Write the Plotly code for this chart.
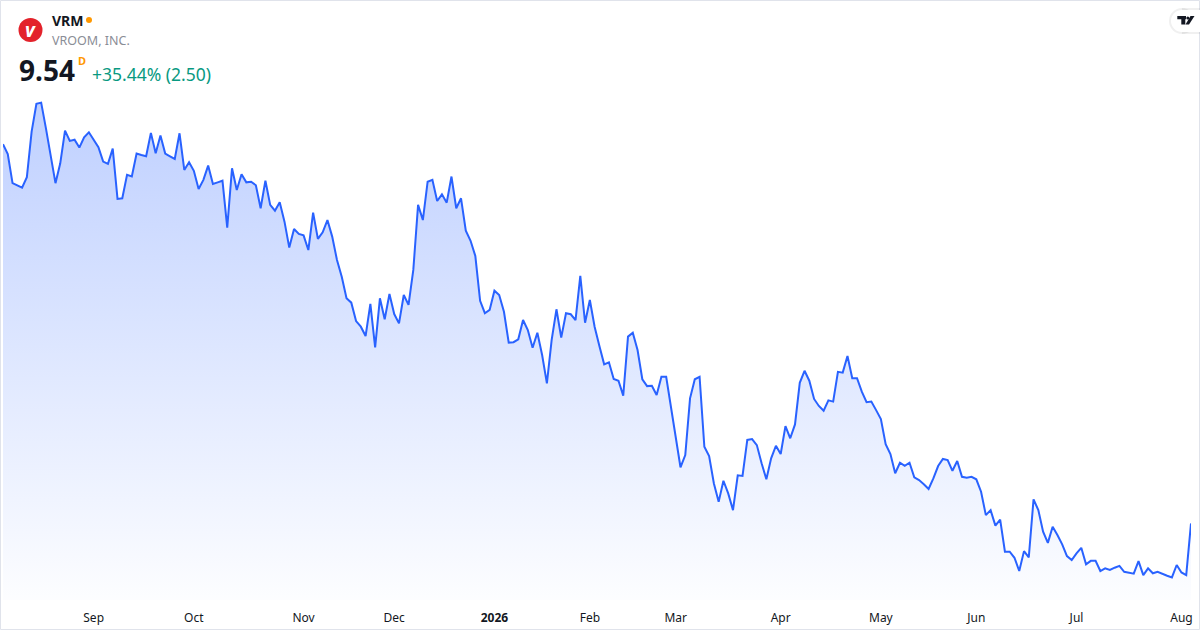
import pandas as pd
import plotly.graph_objects as go

# VRM daily closes, one per trading day
closes = [
    27.85, 27.38, 25.97, 25.84, 25.75, 26.26, 28.46, 29.80, 29.86, 28.62,
    27.29, 25.97, 26.93, 28.51, 28.01, 28.07, 27.69, 28.19, 28.43, 28.09,
    27.71, 27.01, 26.90, 27.64, 25.21, 25.24, 26.37, 26.29, 27.40, 27.33,
    27.27, 28.40, 27.42, 28.27, 27.40, 27.27, 27.14, 28.38, 26.61, 26.98,
    26.57, 25.69, 26.13, 26.82, 25.93, 26.01, 26.09, 23.82, 26.69, 25.64,
    26.40, 26.01, 26.04, 25.87, 24.76, 26.09, 24.92, 24.64, 25.05, 24.11,
    22.86, 23.76, 23.52, 23.45, 22.74, 24.55, 23.28, 23.60, 24.19, 23.39,
    22.26, 21.45, 20.41, 20.20, 19.31, 19.04, 18.59, 20.14, 18.04, 20.41,
    19.40, 20.62, 19.65, 19.20, 20.57, 20.09, 21.78, 24.92, 24.19, 26.04,
    26.13, 25.11, 25.43, 25.03, 26.29, 24.76, 25.24, 23.68, 23.19, 22.45,
    20.29, 19.69, 19.85, 20.78, 20.57, 19.76, 18.27, 18.29, 18.43, 19.36,
    18.88, 18.02, 18.75, 17.67, 16.30, 18.40, 19.88, 18.51, 19.69, 19.64,
    19.36, 21.49, 19.23, 20.33, 19.04, 18.11, 17.22, 17.32, 16.51, 16.43,
    15.71, 18.56, 18.75, 17.91, 16.50, 16.17, 16.19, 15.74, 16.62, 16.62,
    15.17, 13.72, 12.25, 12.84, 15.58, 16.50, 16.62, 13.24, 12.79, 11.47,
    10.58, 11.60, 10.99, 10.18, 11.86, 11.83, 13.57, 13.61, 13.32, 12.44,
    11.67, 12.68, 13.29, 12.89, 14.24, 13.65, 14.32, 16.33, 16.91, 16.43,
    15.55, 15.21, 14.98, 15.48, 15.42, 16.86, 16.82, 17.62, 16.55, 16.55,
    15.90, 15.39, 15.42, 15.01, 14.58, 13.36, 12.89, 11.96, 12.47, 12.32,
    12.47, 11.76, 11.63, 11.43, 11.20, 11.71, 12.31, 12.65, 12.60, 12.08,
    12.55, 11.79, 11.74, 11.79, 11.67, 11.07, 9.94, 10.18, 9.43, 9.72,
    8.17, 8.17, 7.88, 7.24, 8.20, 7.90, 10.70, 10.18, 9.14, 8.60,
    9.38, 8.98, 8.53, 7.96, 7.77, 8.09, 8.36, 7.56, 7.73, 7.73,
    7.24, 7.37, 7.29, 7.40, 7.49, 7.20, 7.15, 7.11, 7.72, 7.04,
    7.37, 7.13, 7.20, 7.09, 7.01, 6.93, 7.53, 7.17, 7.04, 9.54,
]

# NYSE holidays in the window, plus two sessions the feed has no bar for
holidays = ["2025-09-01", "2025-11-27", "2025-12-25", "2026-01-01", "2026-01-19",
            "2026-02-16", "2026-04-03", "2026-05-25", "2026-06-19", "2026-07-03"]
missing_sessions = ["2025-12-24", "2026-02-17"]
last_day = "2026-08-05"

month_labels = ["Sep", "Oct", "Nov", "Dec", "<b>2026</b>", "Feb", "Mar",
                "Apr", "May", "Jun", "Jul", "Aug"]

symbol = "VRM"
company = "VROOM, INC."
last_price = "9.54"
change_text = "+35.44% (2.50)"

days = pd.bdate_range(end=last_day, periods=len(closes), freq="C",
                      holidays=holidays + missing_sessions)
day_str = [d.strftime("%Y-%m-%d") for d in days]

# first trading day of each month, skipping the partial first month
firsts = pd.Series(days).groupby([days.year, days.month]).min().tolist()[1:]
tick_vals = [d.strftime("%Y-%m-%d") for d in firsts]

W, H = 1200, 630
ML, MR, MT, MB = 3, 9, 90, 30
BLUE = "#2962FF"


def px(x):
    return (x - ML) / (W - ML - MR)


def py(y):
    return (H - MB - y) / (H - MT - MB)


fig = go.Figure()
fig.add_trace(go.Scatter(
    x=day_str, y=closes, mode="lines",
    line=dict(color=BLUE, width=2),
    fill="tozeroy",
    fillgradient=dict(type="vertical", start=5.7, stop=max(closes),
                      colorscale=[[0, "rgba(41,98,255,0.01)"],
                                  [1, "rgba(41,98,255,0.30)"]]),
    hoverinfo="skip",
))

shapes = [
    # card border
    dict(type="rect", xref="paper", yref="paper",
         x0=px(0.5), x1=px(W - 0.5), y0=py(0.5), y1=py(H - 0.5),
         line=dict(color="#E0E3EB", width=1), layer="below"),
    # symbol logo
    dict(type="circle", xref="paper", yref="paper",
         x0=px(18.5), x1=px(42.5), y0=py(18), y1=py(42),
         fillcolor="#E3222B", line=dict(width=0)),
    # status dot
    dict(type="circle", xref="paper", yref="paper",
         x0=px(86), x1=px(92), y0=py(17), y1=py(23),
         fillcolor="#FF9800", line=dict(width=0)),
    # TradingView badge
    dict(type="circle", xref="paper", yref="paper",
         x0=px(1169), x1=px(1195), y0=py(8), y1=py(34),
         fillcolor="rgba(0,0,0,0.06)", line=dict(width=0)),
    dict(type="rect", xref="paper", yref="paper",
         x0=px(1182), x1=px(1200), y0=py(8), y1=py(34),
         fillcolor="rgba(0,0,0,0.06)", line=dict(width=0)),
    dict(type="circle", xref="paper", yref="paper",
         x0=px(1171), x1=px(1193), y0=py(10), y1=py(32),
         fillcolor="white", line=dict(width=0)),
    dict(type="rect", xref="paper", yref="paper",
         x0=px(1182), x1=px(1200), y0=py(10), y1=py(32),
         fillcolor="white", line=dict(width=0)),
]


def poly(points):
    return "M " + " L ".join(f"{px(a):.5f},{py(b):.5f}" for a, b in points) + " Z"


tv_T = [(1177.3, 16), (1186, 16), (1186, 19.3), (1185.3, 19.3), (1185.3, 24.5),
        (1181.3, 24.5), (1181.3, 19.3), (1177.3, 19.3)]
tv_slash = [(1190.5, 16), (1194.5, 16), (1189, 24.5), (1185.5, 24.5)]
for pts in (tv_T, tv_slash):
    shapes.append(dict(type="path", xref="paper", yref="paper", path=poly(pts),
                       fillcolor="#131722", line=dict(width=0)))
shapes.append(dict(type="circle", xref="paper", yref="paper",
                   x0=px(1186.3), x1=px(1189.3), y0=py(16.5), y1=py(19.5),
                   fillcolor="#131722", line=dict(width=0)))

FONT = "Noto Sans"


def label(x, y, text, size, color, bold=False, anchor="left"):
    return dict(xref="paper", yref="paper", x=px(x), y=py(y), text=f"<b>{text}</b>" if bold else text,
                showarrow=False, xanchor=anchor, yanchor="middle",
                font=dict(family=FONT, size=size, color=color))


annotations = [
    dict(xref="paper", yref="paper", x=px(30.5), y=py(30.5), text="<b><i>v</i></b>",
         showarrow=False, xanchor="center", yanchor="middle",
         font=dict(family=FONT, size=19, color="white")),
    label(50, 20.5, symbol, 14, "#131722", bold=True),
    label(50, 40.5, company, 12.5, "#8A8D96"),
    label(17, 70, last_price, 28, "#131722", bold=True),
    label(76, 61, "D", 11, "#FF9800", bold=True),
    label(90, 74, change_text, 17.5, "#089981"),
]

fig.update_layout(
    width=W, height=H,
    margin=dict(l=ML, r=MR, t=MT, b=MB),
    paper_bgcolor="white", plot_bgcolor="white",
    showlegend=False,
    shapes=shapes,
    annotations=annotations,
    xaxis=dict(type="category", range=[0, len(closes) - 1],
               tickvals=tick_vals, ticktext=month_labels,
               showgrid=False, zeroline=False, showline=False, ticks="",
               ticklabelstandoff=9,
               tickfont=dict(family=FONT, size=12, color="#131722")),
    yaxis=dict(range=[5.84, 30.47], visible=False, showgrid=False, zeroline=False),
)

# the page body has a default 8px margin; drop it so the card sits at the corner
fig.write_html("out.html", config={"displayModeBar": False},
               post_script="document.body.style.margin='0';")
